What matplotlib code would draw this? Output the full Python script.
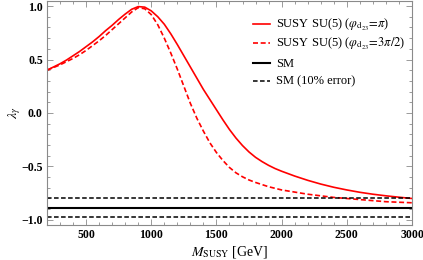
import matplotlib
matplotlib.use("Agg")
import matplotlib.pyplot as plt
from matplotlib.lines import Line2D
from matplotlib.ticker import MultipleLocator

# Data
m_susy = [200, 250, 300, 350, 400, 450, 500, 550, 600, 650, 700, 750, 800, 850, 900,
          950, 1000, 1050, 1100, 1150, 1200, 1250, 1300, 1350, 1400, 1450, 1500, 1550,
          1600, 1650, 1700, 1750, 1800, 1850, 1900, 1950, 2000, 2100, 2200, 2300, 2400,
          2500, 2600, 2700, 2800, 2900, 3000]
lam_pi = [0.40, 0.43, 0.46, 0.495, 0.535, 0.575, 0.62, 0.665, 0.715, 0.77, 0.82, 0.875,
          0.925, 0.97, 0.995, 0.99, 0.955, 0.90, 0.83, 0.74, 0.64, 0.535, 0.43, 0.325,
          0.22, 0.125, 0.03, -0.065, -0.155, -0.235, -0.305, -0.365, -0.415, -0.455,
          -0.49, -0.52, -0.545, -0.59, -0.63, -0.665, -0.695, -0.72, -0.742, -0.76,
          -0.775, -0.788, -0.80]
lam_3pi2 = [0.40, 0.425, 0.45, 0.48, 0.51, 0.545, 0.585, 0.63, 0.675, 0.725, 0.78, 0.835,
            0.89, 0.945, 0.985, 0.975, 0.92, 0.825, 0.70, 0.56, 0.41, 0.25, 0.09, -0.05,
            -0.17, -0.28, -0.37, -0.445, -0.51, -0.56, -0.597, -0.627, -0.65, -0.67,
            -0.69, -0.705, -0.72, -0.74, -0.76, -0.775, -0.79, -0.80, -0.81, -0.82,
            -0.83, -0.835, -0.84]
sm_value = -0.885
sm_error = 0.10
x_range = [200, 3000]

x_ticks = [500, 1000, 1500, 2000, 2500, 3000]
x_tick_labels = ["500", "1000", "1500", "2000", "2500", "3000"]
y_ticks = [-1.0, -0.5, 0.0, 0.5, 1.0]
y_tick_labels = ["\u22121.0", "\u22120.5", "0.0", "0.5", "1.0"]

labels = [r"SUSY SU(5) ($\varphi_{\mathrm{d}_{23}}\!=\!\pi$)",
          r"SUSY SU(5) ($\varphi_{\mathrm{d}_{23}}\!=\!3\pi/2$)",
          "SM", "SM (10% error)"]

plt.rcParams['font.family'] = ['Liberation Serif', 'DejaVu Serif']
plt.rcParams['mathtext.fontset'] = 'stix'

fig = plt.figure(figsize=(4.23, 2.60), dpi=100)
ax = fig.add_axes([0.111, 0.135, 0.863, 0.861])

red = '#ff0000'
dash = (0, (3.0, 1.6))
styles = [dict(color=red, lw=1.2, ls='-'),
          dict(color=red, lw=1.2, ls=dash),
          dict(color='black', lw=1.5, ls='-'),
          dict(color='black', lw=1.1, ls=dash)]

ax.plot(m_susy, lam_pi, **styles[0])
ax.plot(m_susy, lam_3pi2, **styles[1])
ax.plot(x_range, [sm_value] * 2, **styles[2])
ax.plot(x_range, [sm_value * (1 - sm_error)] * 2, **styles[3])
ax.plot(x_range, [sm_value * (1 + sm_error)] * 2, **styles[3])

ax.set_xlim(200, 3000)
ax.set_ylim(-1.047, 1.047)
ax.set_xticks(x_ticks, x_tick_labels, fontweight='bold', fontsize=8.5)
ax.set_yticks(y_ticks, y_tick_labels, fontweight='bold', fontsize=8.5)
ax.xaxis.set_minor_locator(MultipleLocator(100))
ax.yaxis.set_minor_locator(MultipleLocator(0.1))

frame_col = '#8a8a8a'
for s in ax.spines.values():
    s.set_color(frame_col)
    s.set_linewidth(0.8)
ax.tick_params(which='both', direction='in', top=True, right=True, color=frame_col,
               width=0.6)
ax.tick_params(which='major', length=4)
ax.tick_params(which='minor', length=2)
ax.tick_params(axis='both', pad=3)

ax.set_xlabel(r"$M_{\mathrm{SUSY}}$ [GeV]", fontsize=10, labelpad=2)
ax.set_ylabel(r"$\lambda_{\gamma}$", fontsize=10)
ax.yaxis.set_label_coords(-0.066, 0.5)

# manual legend (rows placed to match the reference)
row_y = [0.897, 0.8125, 0.723, 0.643]
x0, x1, xt = 0.564, 0.611, 0.627
for st, lab, y in zip(styles, labels, row_y):
    ax.add_line(Line2D([x0, x1], [y, y], transform=ax.transAxes, clip_on=False, **st))
    ax.text(xt, y - 0.0156, lab, transform=ax.transAxes, fontsize=9,
            va='baseline', ha='left')

fig.savefig("out.png", dpi=100)
